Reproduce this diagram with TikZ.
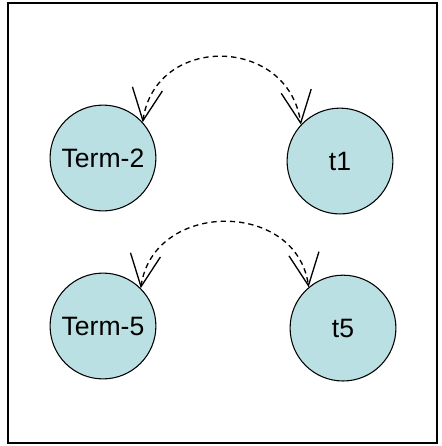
\documentclass[tikz,border=0pt]{standalone}
\usepackage{fontspec}
\setmainfont{Liberation Sans}
\usetikzlibrary{arrows.meta}
\definecolor{termfill}{RGB}{187,224,227}
\tikzset{
  termnode/.style={circle,draw,line width=0.8pt,fill=termfill,minimum size=2.8cm,inner sep=0pt,font=\fontsize{20}{24}\selectfont},
  barb/.tip={Straight Barb[length=8.5mm,width=8mm,line width=1pt]},
  link/.style={dashed,line width=1pt,dash pattern=on 4pt off 3pt,{barb}-{barb}}
}
\begin{document}
\begin{tikzpicture}
\useasboundingbox (0,0) rectangle (11.695,11.801);
\draw[line width=1.8pt] (0.212,0.079) rectangle (11.563,11.72);
\node[termnode] (term2) at (2.725,7.62) {Term-2};
\node[termnode] (t1) at (8.996,7.54) {t1};
\node[termnode] (term5) at (2.725,3.175) {Term-5};
\node[termnode] (t5) at (9.076,3.12) {t5};
\draw[link] (term2.42) to[out=82,in=98,looseness=1.45] (t1.137);
\draw[link] (term5.45) to[out=82,in=98,looseness=1.35] (t5.130);
\end{tikzpicture}
\end{document}
